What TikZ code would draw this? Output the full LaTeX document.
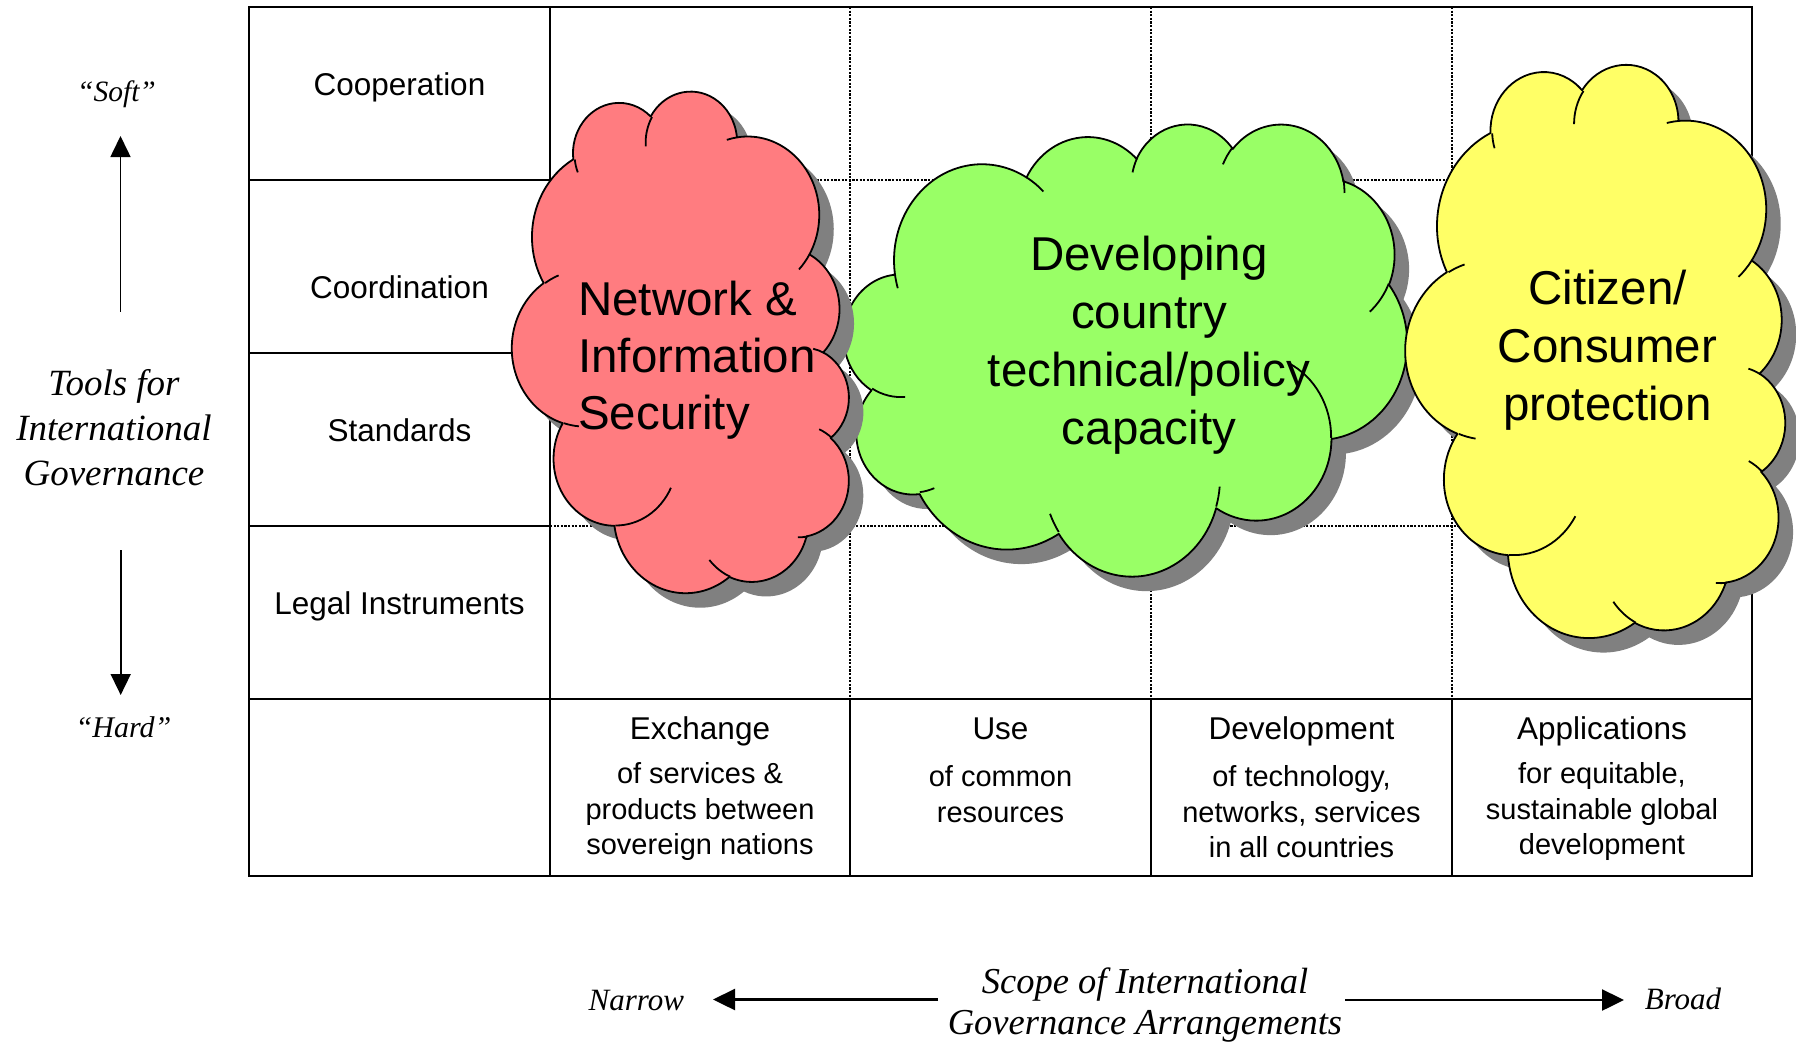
\documentclass[tikz,border=0pt]{standalone}
\usepackage{fontspec}
\setmainfont{Liberation Sans}
\newfontfamily\tnr{Liberation Serif}
\usetikzlibrary{arrows.meta}
\definecolor{cred}{HTML}{FF7C80}
\definecolor{cgreen}{HTML}{99FF66}
\definecolor{cyellow}{HTML}{FFFF66}
\definecolor{cshadow}{HTML}{808080}
\newcommand\lnstrut{\rule[-0.24em]{0pt}{1.02em}}
\tikzset{
  carc/.style n args={4}{insert path={arc[x radius=#1, y radius=#2,
     start angle={atan2((#1)*sin(#3),(#2)*cos(#3))},
     delta angle={mod(atan2((#1)*sin((#3)+(#4)),(#2)*cos((#3)+(#4)))-atan2((#1)*sin(#3),(#2)*cos(#3))+720,360)}]}},
  tbl/.style={line width=2.3pt, line cap=rect},
  dotline/.style={line width=2.2pt, dash pattern=on 2.2pt off 1.4pt},
  cloudline/.style={line width=1.8pt, line join=round},
  lbl/.style={font=\fontsize{31.5}{37}\selectfont, inner sep=0pt},
  sub/.style={font=\fontsize{29}{35.5}\selectfont, inner sep=0pt, align=center},
  big/.style={font=\fontsize{47.5}{58}\selectfont, inner sep=0pt, align=center},
  axarrow/.style={line width=1.6pt, -{Triangle[width=20pt,length=21pt]}},
  harrow/.style={line width=2.4pt, -{Triangle[width=21pt,length=22pt]}}
}
\def\cloudpath{(39.00,143.70)
 [carc={67.53}{91.90}{-190.49}{123.78}]
 [carc={53.33}{72.67}{-144.10}{89.95}]
 [carc={43.65}{59.45}{-145.81}{99.72}]
 [carc={48.57}{65.95}{-130.99}{117.24}]
 [carc={53.33}{72.73}{-78.71}{109.03}]
 [carc={67.75}{92.20}{-46.27}{130.27}]
 [carc={57.85}{78.67}{0.625}{114.03}]
 [carc={67.52}{92.15}{22.45}{115.17}]
 [carc={77.20}{105.43}{66.24}{75.71}]
 [carc={43.60}{59.18}{-274.94}{146.74}]
 [carc={43.45}{59.45}{-246.83}{152.52}] -- cycle}
\def\cloudtails{(46.93,261.77) [carc={43.45}{59.45}{86.74}{26.43}]
 (69.28,348.99) [carc={43.60}{59.18}{73.61}{11.45}]
 (164.78,390.90) [carc={67.52}{92.15}{137.62}{14.08}]
 (288.27,347.51) [carc={67.52}{92.15}{6.45}{16.00}]
 (341.29,229.54) [carc={57.85}{78.67}{-70.29}{70.92}]
 (417.98,153.54) [carc={53.33}{72.73}{30.32}{27.75}]
 (383.24,54.26) [carc={48.57}{65.95}{-13.74}{14.86}]
 (290.78,39.52) [carc={48.57}{65.95}{-149.18}{18.20}]
 (221.41,47.20) [carc={43.65}{59.45}{-163.49}{17.69}]
 (140.00,51.92) [carc={67.53}{91.90}{-66.71}{12.32}]
 (41.27,157.89) [carc={67.53}{91.90}{157.65}{11.86}]}
\begin{document}
\begin{tikzpicture}[x=1pt,y=-1pt]
\fill[white] (0,0) rectangle (1796,1042);
\useasboundingbox (0,0) rectangle (1796,1042);
% table
\draw[dotline] (850,7) -- (850,699) (1151,7) -- (1151,699) (1452,7) -- (1452,699);
\draw[dotline] (550,180) -- (1752,180) (550,353) -- (1752,353) (550,526) -- (1752,526);
\draw[tbl] (249,7) rectangle (1752,876);
\draw[tbl] (550,7) -- (550,876);
\draw[tbl] (249,699) -- (1752,699);
\draw[tbl] (249,180) -- (550,180) (249,353) -- (550,353) (249,526) -- (550,526);
\draw[tbl] (850,699) -- (850,876) (1151,699) -- (1151,876) (1452,699) -- (1452,876);
% green cloud
\begin{scope}[shift={(844pt,-123pt)}, x={(1.3032pt,0pt)}, y={(0pt,-1.0463pt)}]
  \fill[cshadow, shift={(14.5pt,-14.5pt)}] \cloudpath;
  \filldraw[cloudline, fill=cgreen] \cloudpath;
  \draw[cloudline] \cloudtails;
\end{scope}
% red cloud
\begin{scope}[shift={(850pt,-92pt)}, x={(0pt,-1.1597pt)}, y={(-0.7801pt,0pt)}]
  \fill[cshadow, shift={(14.5pt,-14.5pt)}] \cloudpath;
  \filldraw[cloudline, fill=cred] \cloudpath;
  \draw[cloudline] \cloudtails;
\end{scope}
% yellow cloud
\begin{scope}[shift={(1810.8pt,-78.1pt)}, x={(-0.0927pt,-1.3255pt)}, y={(-0.8878pt,0.0621pt)}]
  \fill[cshadow, shift={(14.5pt,-14.5pt)}] \cloudpath;
  \filldraw[cloudline, fill=cyellow] \cloudpath;
  \draw[cloudline] \cloudtails;
\end{scope}
% cloud texts
\node[big, align=left, anchor=north west, font=\fontsize{47.5}{57.3}\selectfont] (tnet) at (578,278)
  {\lnstrut Network \&\\\lnstrut Information\\\lnstrut Security};
\node[big, anchor=north] (tdev) at (1149,233)
  {\lnstrut Developing\\\lnstrut country\\\lnstrut technical/policy\\\lnstrut capacity};
\node[big, anchor=north] (tcit) at (1607.5,267)
  {\lnstrut Citizen/\\\lnstrut Consumer\\\lnstrut protection};
% row labels
\node[lbl, anchor=base] (coop) at (399.5,95) {Cooperation};
\node[lbl, anchor=base] (coord) at (399.5,298.5) {Coordination};
\node[lbl, anchor=base] (stds) at (399.5,441) {Standards};
\node[lbl, anchor=base] (legal) at (399.5,614) {Legal Instruments};
% column labels
\node[lbl, anchor=base] (hx) at (700,739.3) {Exchange};
\node[lbl, anchor=base] (hu) at (1000.5,739.3) {Use};
\node[lbl, anchor=base] (hd) at (1301.5,739.3) {Development};
\node[lbl, anchor=base] (ha) at (1602,739.3) {Applications};
\node[sub, anchor=north] (sx) at (700,760.9)
  {\lnstrut of services \&\\\lnstrut products between\\\lnstrut sovereign nations};
\node[sub, anchor=north] (su) at (1000.5,763.9)
  {\lnstrut of common\\\lnstrut resources};
\node[sub, anchor=north] (sd) at (1301.5,763.9)
  {\lnstrut of technology,\\\lnstrut networks, services\\\lnstrut in all countries};
\node[sub, anchor=north] (sa) at (1602,760.9)
  {\lnstrut for equitable,\\\lnstrut sustainable global\\\lnstrut development};
% vertical axis
\node[inner sep=0pt, anchor=base, font=\tnr\itshape\fontsize{29.5}{35}\selectfont] (soft) at (116.5,101.7) {“Soft”};
\node[inner sep=0pt, anchor=north, align=center, font=\tnr\itshape\fontsize{37}{44.7}\selectfont] (tools) at (114,366.8)
  {\lnstrut Tools for\\\lnstrut International\\\lnstrut Governance};
\node[inner sep=0pt, anchor=base, font=\tnr\itshape\fontsize{30}{35}\selectfont] (hard) at (123.5,737) {“Hard”};
\coordinate (uA) at (120.5,311.7);
\coordinate (uB) at (120.5,136);
\coordinate (dA) at (120.7,550);
\coordinate (dB) at (120.7,695);
\draw[axarrow] (uA) -- (uB);
\draw[axarrow] (dA) -- (dB);
% horizontal axis
\node[inner sep=0pt, anchor=base, font=\tnr\itshape\fontsize{31}{36}\selectfont] (narrow) at (636.4,1010) {Narrow};
\node[inner sep=0pt, anchor=base, font=\tnr\itshape\fontsize{31}{36}\selectfont] (broad) at (1683,1009) {Broad};
\node[inner sep=0pt, anchor=north, align=center, font=\tnr\itshape\fontsize{36.5}{41}\selectfont] (scope) at (1145,964.5)
  {\lnstrut Scope of International\\\lnstrut Governance Arrangements};
\coordinate (lA) at (938,999.5);
\coordinate (lB) at (713,999.5);
\coordinate (rA) at (1345,1000);
\coordinate (rB) at (1624,1000);
\draw[harrow] (lA) -- (lB);
\draw[harrow] (rA) -- (rB);
\end{tikzpicture}
\end{document}
